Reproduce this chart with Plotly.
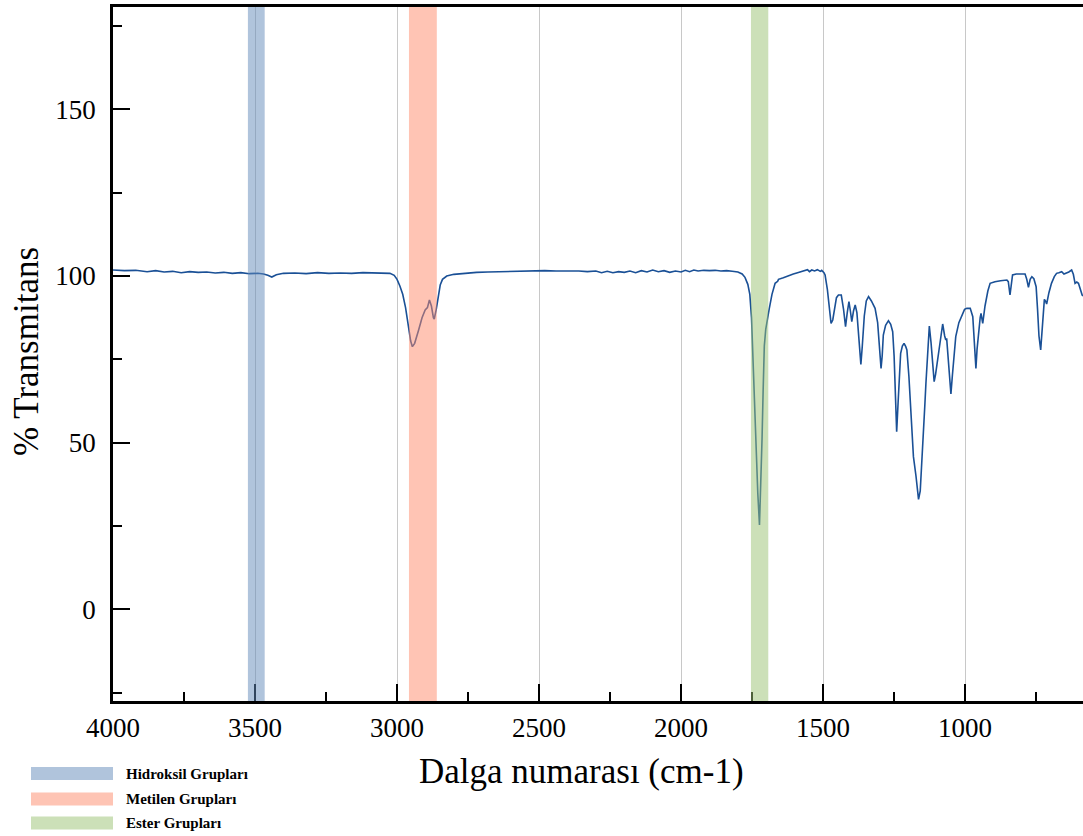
import plotly.graph_objects as go

# ---- spectrum data (wavenumber cm-1, % transmittance) ----
wavenumber = [
    4000, 3960, 3920, 3880, 3850, 3820, 3790, 3760, 3730, 3700, 3670, 3640, 3610, 3580, 3550,
    3520, 3490, 3470, 3455, 3441, 3425, 3400, 3360, 3320, 3280, 3240, 3200, 3160, 3120, 3080,
    3050, 3025, 3010, 3000, 2990, 2980, 2970, 2960, 2952, 2946, 2938, 2925, 2912, 2901, 2893,
    2886, 2879, 2872, 2869, 2862, 2855, 2848, 2840, 2825, 2800, 2760, 2720, 2680, 2640, 2600,
    2560, 2520, 2480, 2440, 2400, 2360, 2330, 2300, 2280, 2260, 2240, 2220, 2200, 2180, 2160,
    2140, 2120, 2100, 2080, 2060, 2040, 2020, 2000, 1985, 1970, 1955, 1940, 1920, 1900, 1880,
    1860, 1840, 1820, 1800, 1785, 1775, 1765, 1758, 1752, 1747, 1742, 1736, 1730, 1724, 1719,
    1715, 1711, 1707, 1702, 1697, 1690, 1680, 1669, 1660, 1657, 1640, 1620, 1605, 1590, 1575,
    1563, 1555, 1548, 1540, 1530, 1520, 1510, 1505, 1497, 1493, 1485, 1478, 1472, 1466, 1460,
    1453, 1446, 1436, 1428, 1421, 1415, 1409, 1404, 1399, 1393, 1387, 1381, 1375, 1371, 1367,
    1362, 1355, 1348, 1340, 1330, 1317, 1308, 1300, 1296, 1292, 1288, 1280, 1270, 1262, 1255,
    1250, 1245, 1241, 1236, 1231, 1227, 1221, 1215, 1209, 1205, 1198, 1190, 1182, 1173, 1164,
    1158, 1155, 1148, 1142, 1138, 1132, 1126, 1120, 1114, 1109, 1104, 1098, 1090, 1079, 1072,
    1068, 1065, 1060, 1054, 1050, 1045, 1039, 1033, 1022, 1012, 1002, 994, 982, 973, 967,
    962, 958, 951, 947, 944, 938, 930, 920, 912, 895, 875, 853, 848, 845, 842,
    838, 833, 820, 800, 789, 783, 777, 771, 765, 758, 750, 745, 740, 734, 729,
    725, 721, 717, 713, 705, 696, 686, 678, 670, 660, 652, 643, 635, 625, 619,
    613, 607, 601, 595, 588, 585,
]
transmittance = [
    101.8, 101.6, 101.7, 101.3, 101.6, 101.2, 101.4, 101.0, 101.3, 101.1, 101.2, 100.9, 101.1, 100.8, 101.0,
    100.7, 100.8, 100.6, 100.2, 99.7, 100.4, 100.8, 100.9, 100.7, 101.0, 100.8, 100.9, 100.8, 101.0, 101.0,
    100.9, 100.8, 100.2, 99.0, 97.0, 94.5, 90.5, 84.5, 80.5, 78.8, 79.8, 83.5, 87.5, 89.8, 90.5,
    92.8, 91.0, 87.5, 87.1, 90.0, 94.5, 97.3, 99.0, 100.0, 100.5, 100.9, 101.1, 101.2, 101.3, 101.4,
    101.5, 101.5, 101.6, 101.5, 101.6, 101.5, 101.3, 101.5, 101.0, 101.4, 101.0, 101.3, 101.1, 101.5, 101.0,
    101.6, 101.2, 101.8, 101.3, 101.6, 101.1, 101.5, 101.2, 101.7, 101.3, 101.8, 101.5, 101.7, 101.6, 101.7,
    101.5, 101.6, 101.4, 101.2, 100.6, 99.6, 97.5, 94.5, 87.5, 75.0, 61.0, 47.0, 35.0, 25.3, 38.0,
    51.0, 66.0, 79.0, 84.0, 87.0, 90.0, 94.5, 97.8, 98.4, 99.0, 99.5, 100.2, 100.6, 101.0, 101.4,
    101.6, 101.9, 101.3, 101.8, 101.5, 101.9, 101.4, 101.7, 101.0, 100.3, 96.0, 90.0, 85.8, 86.8, 90.0,
    93.5, 94.3, 94.3, 90.0, 84.8, 89.0, 92.3, 89.5, 86.3, 89.5, 91.3, 89.0, 82.0, 76.0, 73.5,
    79.0, 88.0, 92.5, 93.8, 92.5, 90.3, 86.0, 78.0, 72.3, 76.0, 82.3, 85.2, 86.6, 85.5, 83.3,
    76.0, 63.0, 53.3, 62.0, 72.0, 76.8, 79.0, 79.8, 78.8, 77.8, 70.0, 58.0, 45.8, 40.0, 33.0,
    35.5, 39.8, 51.0, 61.0, 67.8, 78.0, 85.0, 80.0, 72.0, 68.3, 70.5, 73.8, 79.0, 85.6, 82.0,
    80.8, 81.3, 76.0, 68.0, 64.6, 70.0, 77.0, 81.8, 86.0, 88.3, 90.0, 90.3, 90.3, 87.8, 80.0,
    72.3, 78.0, 84.8, 87.5, 88.8, 85.8, 91.0, 95.5, 97.8, 98.3, 98.6, 98.8, 98.3, 96.5, 94.3,
    97.0, 100.3, 100.6, 100.6, 100.6, 99.0, 96.6, 99.0, 99.8, 99.2, 96.8, 90.0, 82.0, 77.8, 84.0,
    91.0, 93.0, 92.5, 91.6, 95.0, 97.8, 99.8, 100.8, 101.0, 101.3, 100.6, 100.8, 101.2, 101.8, 100.5,
    97.8, 98.2, 97.8, 96.0, 94.3, 94.0,
]

# ---- highlighted bands ----
band_names = ["Hidroksil Grupları", "Metilen Grupları", "Ester Grupları"]
band_start = [3525, 2958, 1754]
band_end = [3466, 2860, 1693]
band_colors = ["#6189b9", "#ff8969", "#99c171"]      # drawn at 50 % opacity
legend_colors = ["#b0c4dc", "#fec4b4", "#cce0b8"]

x_range = [4000, 585]
y_range = [-27.5, 180.7]
x_ticks = [4000, 3500, 3000, 2500, 2000, 1500, 1000]
y_ticks = [0, 50, 100, 150]

SERIF = "Liberation Serif, Times New Roman, serif"

W, H = 1083, 836
ML, MR, MT, MB = 113, 0, 7, 135
PW, PH = W - ML - MR, H - MT - MB

def px_x(p):
    return (p - ML) / PW

def px_y(p):
    return (H - MB - p) / PH

fig = go.Figure()
fig.add_trace(go.Scatter(
    x=wavenumber, y=transmittance, mode="lines",
    line=dict(color="#1a5096", width=1.6), showlegend=False, hoverinfo="x+y",
))

shapes = []
for s, e, c in zip(band_start, band_end, band_colors):
    shapes.append(dict(type="rect", xref="x", yref="paper", x0=s, x1=e, y0=0, y1=1,
                       fillcolor=c, opacity=0.5, line=dict(width=0), layer="above"))

annotations = []
legend_y = [773.5, 799, 823]
for name, col, ly in zip(band_names, legend_colors, legend_y):
    shapes.append(dict(type="rect", xref="paper", yref="paper",
                       x0=px_x(31), x1=px_x(113), y0=px_y(ly + 6.5), y1=px_y(ly - 6.5),
                       fillcolor=col, line=dict(width=0), layer="above"))
    annotations.append(dict(text="<b>" + name + "</b>", xref="paper", yref="paper",
                            x=px_x(124), y=px_y(ly), xanchor="left", yanchor="middle",
                            showarrow=False,
                            font=dict(family=SERIF, size=15, color="black")))

annotations.append(dict(text="Dalga numarası (cm-1)", xref="paper", yref="paper",
                        x=px_x(581), y=px_y(772), xanchor="center", yanchor="middle",
                        showarrow=False,
                        font=dict(family=SERIF, size=35, color="black")))
annotations.append(dict(text="% Transmitans", xref="paper", yref="paper",
                        x=px_x(27), y=px_y(352), xanchor="center", yanchor="middle",
                        textangle=-90, showarrow=False,
                        font=dict(family=SERIF, size=35, color="black")))

fig.update_layout(
    width=W, height=H,
    margin=dict(l=ML, r=MR, t=MT, b=MB, pad=0),
    paper_bgcolor="white", plot_bgcolor="white",
    font=dict(family=SERIF, size=27, color="black"),
    shapes=shapes, annotations=annotations, showlegend=False,
)
fig.update_xaxes(
    range=x_range, tickvals=x_ticks, ticks="inside", ticklen=17, tickwidth=2,
    tickcolor="black", showline=True, linecolor="black", linewidth=2.5, mirror=True,
    showgrid=True, gridcolor="#c8c8c8", gridwidth=1, zeroline=False,
    ticklabelstandoff=1,
    minor=dict(dtick=250, tick0=0, ticks="inside", ticklen=9, tickwidth=2,
               tickcolor="black", showgrid=False),
    tickfont=dict(family=SERIF, size=27, color="black"),
)
fig.update_yaxes(
    range=y_range, tickvals=y_ticks, ticks="inside", ticklen=17, tickwidth=2,
    tickcolor="black", showline=True, linecolor="black", linewidth=2.5, mirror=False,
    showgrid=False, zeroline=False, ticklabelstandoff=9,
    minor=dict(dtick=25, tick0=0, ticks="inside", ticklen=9, tickwidth=2,
               tickcolor="black", showgrid=False),
    tickfont=dict(family=SERIF, size=27, color="black"),
)

fig.write_html("out.html")
